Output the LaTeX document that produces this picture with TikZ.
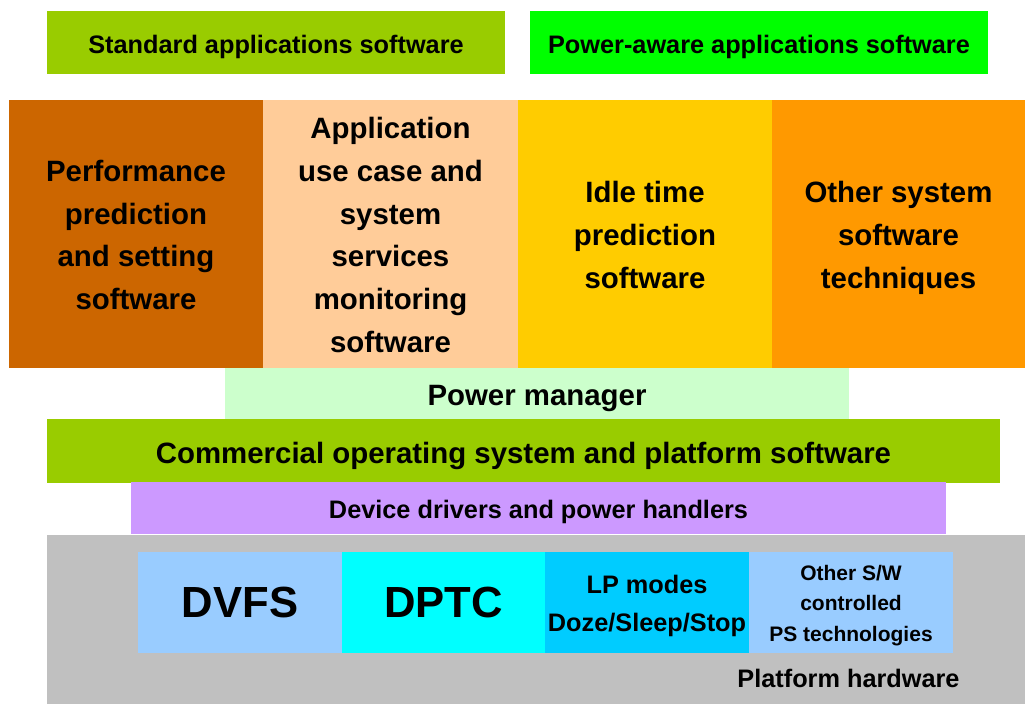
\documentclass[tikz,border=0pt]{standalone}
\usepackage{fontspec}
\setmainfont{Liberation Sans}
\definecolor{cgreen}{HTML}{99CC00}
\definecolor{cbright}{HTML}{00FF00}
\definecolor{cbrown}{HTML}{CC6600}
\definecolor{cpeach}{HTML}{FFCC99}
\definecolor{cyellow}{HTML}{FFCC00}
\definecolor{corange}{HTML}{FF9900}
\definecolor{cmint}{HTML}{CCFFCC}
\definecolor{clilac}{HTML}{CC99FF}
\definecolor{cgray}{HTML}{C0C0C0}
\definecolor{csky}{HTML}{99CCFF}
\definecolor{ccyan}{HTML}{00FFFF}
\definecolor{cblue}{HTML}{00CCFF}
\tikzset{
  blk/.style={inner sep=0pt, outer sep=0pt, draw=none},
  tx/.style={inner sep=0pt, outer sep=0pt, align=center},
  fmid/.style={font=\bfseries\fontsize{25.3}{30}\selectfont},
  fbig/.style={font=\bfseries\fontsize{29.4}{42.7}\selectfont},
  fhuge/.style={font=\bfseries\fontsize{43.6}{50}\selectfont},
  flp/.style={font=\bfseries\fontsize{25.3}{38}\selectfont},
  fsmall/.style={font=\bfseries\fontsize{21}{30.5}\selectfont},
}
\begin{document}
\begin{tikzpicture}[x=1pt,y=-1pt]
\useasboundingbox (0,0) rectangle (1025,704);
% boxes
\node[blk,fill=cgreen,minimum width=458,minimum height=63] (std) at (276,42.5) {};
\node[blk,fill=cbright,minimum width=458,minimum height=63] (paw) at (759,42.5) {};
\node[blk,fill=cbrown,minimum width=254,minimum height=268] (perf) at (136,234) {};
\node[blk,fill=cpeach,minimum width=255,minimum height=268] (app) at (390.5,234) {};
\node[blk,fill=cyellow,minimum width=254,minimum height=268] (idle) at (645,234) {};
\node[blk,fill=corange,minimum width=253,minimum height=268] (oth) at (898.5,234) {};
\node[blk,fill=cmint,minimum width=624,minimum height=52] (pm) at (537,394) {};
\node[blk,fill=cgreen,minimum width=953,minimum height=64] (os) at (523.5,451) {};
\node[blk,fill=clilac,minimum width=815,minimum height=52] (drv) at (538.5,508) {};
\node[blk,fill=cgray,minimum width=978,minimum height=169] (hw) at (536,619.5) {};
\node[blk,fill=csky,minimum width=204,minimum height=101] (dvfs) at (240,602.5) {};
\node[blk,fill=ccyan,minimum width=203,minimum height=101] (dptc) at (443.5,602.5) {};
\node[blk,fill=cblue,minimum width=204,minimum height=101] (lp) at (647,602.5) {};
\node[blk,fill=csky,minimum width=204,minimum height=101] (osw) at (851,602.5) {};
% texts
\node[tx,fmid] (stdT) at ([yshift=-4pt]std.center) {Standard applications software};
\node[tx,fmid] (pawT) at ([yshift=-4pt]paw.center) {Power-aware applications software};
\node[tx,fbig] (perfT) at ([yshift=-1pt]perf.center) {Performance\\prediction\\and setting\\software};
\node[tx,fbig] (appT) at ([yshift=-1pt]app.center) {Application\\use case and\\system\\services\\monitoring\\software};
\node[tx,fbig] (idleT) at ([yshift=-1pt]idle.center) {Idle time\\prediction\\software};
\node[tx,fbig] (othT) at ([yshift=-4pt]oth.center) {Other system\\software\\techniques};
\node[tx,fbig] (pmT) at ([yshift=-4pt]pm.center) {Power manager};
\node[tx,fbig] (osT) at ([yshift=-5pt]os.center) {Commercial operating system and platform software};
\node[tx,fmid] (drvT) at ([yshift=-4pt]drv.center) {Device drivers and power handlers};
\node[tx,fhuge] (dvfsT) at (dvfs.center) {DVFS};
\node[tx,fhuge] (dptcT) at (dptc.center) {DPTC};
\node[tx,flp] (lpT) at ([yshift=-3pt]lp.center) {LP modes\\Doze/Sleep/Stop};
\node[tx,fsmall] (oswT) at ([yshift=-3pt]osw.center) {Other S/W\\controlled\\PS technologies};
\node[tx,fmid] (hwT) at (848.5,678) {Platform hardware};
\end{tikzpicture}
\end{document}
